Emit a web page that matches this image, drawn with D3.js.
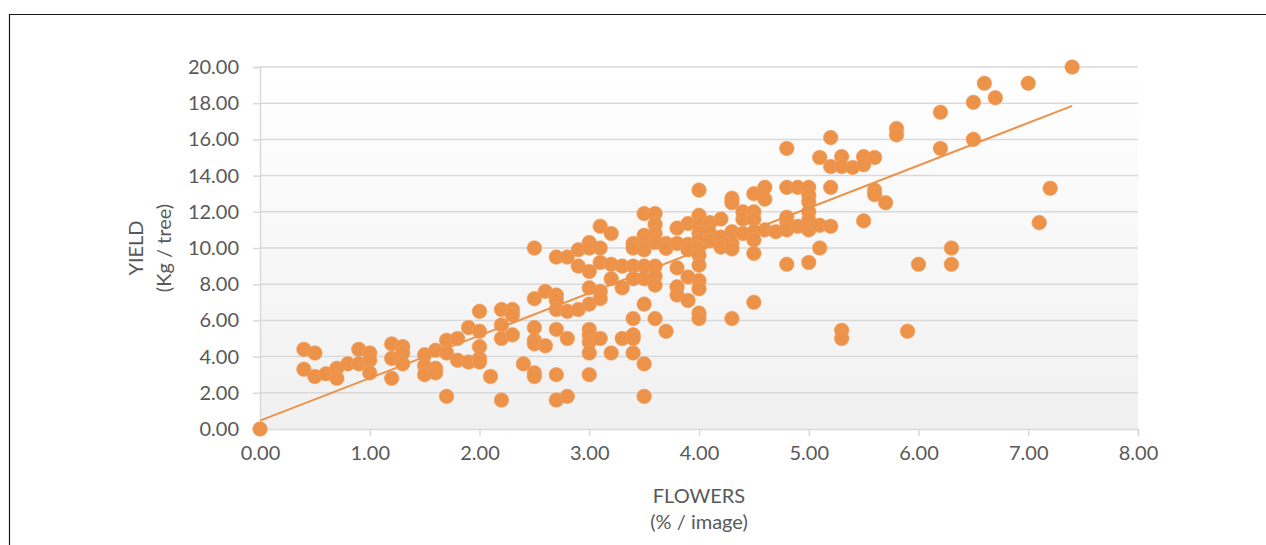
<!DOCTYPE html>
<html>
<head>
<meta charset="utf-8">
<script src="https://cdn.jsdelivr.net/npm/d3@7/dist/d3.min.js"></script>
<style>
  body { margin: 0; background: #fff; }
  text { font-family: Lato, "Open Sans", sans-serif; fill: #595959; }
</style>
</head>
<body>
<div id="chart"></div>
<script>
// flower cover (% of image) levels, and yields (kg / tree) measured at each level
var flowerPct = [0, 0.4, 0.5, 0.6, 0.7, 0.8, 0.9, 1.0, 1.2, 1.3, 1.5, 1.6, 1.7, 1.8, 1.9,
    2.0, 2.1, 2.2, 2.3, 2.4, 2.5, 2.6, 2.7, 2.8, 2.9, 3.0, 3.1, 3.2, 3.3, 3.4, 3.5,
    3.6, 3.7, 3.8, 3.9, 4.0, 4.1, 4.2, 4.3, 4.4, 4.5, 4.6, 4.7, 4.8, 4.9, 5.0, 5.1,
    5.2, 5.3, 5.4, 5.5, 5.6, 5.7, 5.8, 5.9, 6.0, 6.2, 6.3, 6.5, 6.6, 6.7, 7.0, 7.1,
    7.2, 7.4];

var yieldGroups = [
    [0],
    [4.4, 3.3],
    [4.2, 2.9],
    [3.05],
    [3.35, 2.8],
    [3.6],
    [4.4, 3.6],
    [4.2, 3.8, 3.1],
    [4.7, 3.9, 2.8],
    [4.55, 4.2, 3.6],
    [4.1, 3.5, 3.0],
    [4.35, 3.35, 3.1],
    [4.9, 4.2, 1.8],
    [5.0, 3.8],
    [5.6, 3.7],
    [6.5, 5.4, 4.55, 3.9, 3.7],
    [2.9],
    [6.6, 5.75, 5.0, 1.6],
    [6.6, 6.3, 5.2],
    [3.6],
    [10.0, 7.2, 5.6, 4.9, 4.7, 3.1, 2.9],
    [7.6, 4.6],
    [9.5, 7.4, 7.1, 6.6, 5.5, 3.0, 1.6],
    [9.5, 6.5, 5.0, 1.8],
    [9.9, 9.0, 6.6],
    [10.3, 10.0, 8.7, 7.8, 6.9, 5.5, 5.2, 4.8, 4.2, 3.0],
    [11.2, 10.0, 9.2, 7.6, 7.2, 5.0],
    [10.8, 9.1, 8.3, 4.2],
    [9.0, 7.8, 5.0],
    [10.25, 10.0, 9.0, 8.3, 6.1, 5.2, 5.0, 4.2],
    [11.9, 10.7, 10.35, 9.9, 9.0, 8.3, 6.9, 3.6, 1.8],
    [11.9, 11.3, 10.8, 10.3, 9.0, 8.45, 7.95, 6.1],
    [10.25, 9.98, 5.4],
    [11.1, 10.25, 8.9, 7.85, 7.4],
    [11.35, 10.2, 9.9, 8.4, 7.1],
    [13.2, 11.8, 11.3, 10.8, 10.45, 10.05, 9.6, 9.05, 8.2, 7.75, 6.4, 6.1],
    [11.4, 10.8, 10.4],
    [11.6, 10.6, 10.05],
    [12.75, 12.5, 10.9, 10.25, 9.95, 6.1],
    [12.0, 11.6, 10.8],
    [13.0, 12.0, 11.6, 10.9, 10.45, 9.7, 7.0],
    [13.35, 12.7, 11.0],
    [10.9],
    [15.5, 13.35, 11.7, 11.4, 11.0, 9.1],
    [13.35, 11.2],
    [13.35, 12.9, 12.55, 12.0, 11.55, 11.0, 9.2],
    [15.0, 11.25, 10.0],
    [16.1, 14.5, 13.35, 11.2],
    [15.05, 14.5, 5.45, 5.0],
    [14.45],
    [15.05, 14.6, 11.5],
    [15.0, 13.2, 12.95],
    [12.5],
    [16.6, 16.25],
    [5.4],
    [9.1],
    [17.5, 15.5],
    [10.0, 9.1],
    [18.05, 16.0],
    [19.1],
    [18.3],
    [19.1],
    [11.4],
    [13.3],
    [20.0]
];

// linear trendline as shown in the chart (yield = slope * flowers + intercept)
var trendSlope = 2.35;
var trendIntercept = 0.46;

var xTicks = [0, 1, 2, 3, 4, 5, 6, 7, 8];
var yTicks = [0, 2, 4, 6, 8, 10, 12, 14, 16, 18, 20];
var xTitle = ["FLOWERS", "(% / image)"];
var yTitle = ["YIELD", "(Kg / tree)"];

var points = [];
flowerPct.forEach(function(f, i) {
    yieldGroups[i].forEach(function(v) { points.push({x: f, y: v}); });
});

var W = 1266, H = 545;
var plot = {left: 260, right: 1138, top: 67, bottom: 429};
var orange = "#ed9249";

var svg = d3.select("#chart").append("svg")
    .attr("width", W)
    .attr("height", H);

// frame (only top and left edges show in the crop)
svg.append("path")
    .attr("d", "M9.5," + H + "V14.5H" + W)
    .attr("fill", "none")
    .attr("stroke", "#1a1a1a")
    .attr("stroke-width", 1.2);

var x = d3.scaleLinear().domain([0, 8]).range([plot.left, plot.right]);
var y = d3.scaleLinear().domain([0, 20]).range([plot.bottom, plot.top]);

var grad = svg.append("defs").append("linearGradient")
    .attr("id", "bg").attr("x1", 0).attr("y1", 0).attr("x2", 0).attr("y2", 1);
grad.append("stop").attr("offset", "0%").attr("stop-color", "#ffffff");
grad.append("stop").attr("offset", "100%").attr("stop-color", "#f0f0f0");

svg.append("rect")
    .attr("x", plot.left).attr("y", plot.top)
    .attr("width", plot.right - plot.left)
    .attr("height", plot.bottom - plot.top)
    .attr("fill", "url(#bg)");

// horizontal gridlines
svg.append("g").selectAll("line")
    .data(yTicks.slice(1))
    .enter().append("line")
    .attr("x1", plot.left).attr("x2", plot.right)
    .attr("y1", function(d) { return y(d); })
    .attr("y2", function(d) { return y(d); })
    .attr("stroke", "#d9d9d9")
    .attr("stroke-width", 1.5);

// y axis
var yAxis = svg.append("g")
    .attr("transform", "translate(" + plot.left + ",0)")
    .call(d3.axisLeft(y).tickValues(yTicks).tickFormat(d3.format(".2f")).tickSize(7).tickPadding(14));

// x axis
var xAxis = svg.append("g")
    .attr("transform", "translate(0," + plot.bottom + ")")
    .call(d3.axisBottom(x).tickValues(xTicks).tickFormat(d3.format(".2f")).tickSize(7).tickPadding(10));

[yAxis, xAxis].forEach(function(a) {
    a.select(".domain").attr("stroke", "#d9d9d9").attr("stroke-width", 1.5);
    a.selectAll(".tick line").attr("stroke", "#d9d9d9").attr("stroke-width", 1.5);
    a.selectAll(".tick text")
        .attr("fill", "#595959")
        .style("font-family", "Lato, sans-serif")
        .style("font-size", "20px");
});

// points
svg.append("g").selectAll("circle")
    .data(points)
    .enter().append("circle")
    .attr("cx", function(d) { return x(d.x); })
    .attr("cy", function(d) { return y(d.y); })
    .attr("r", 7.3)
    .attr("fill", orange)
    .attr("stroke", "#f0a060")
    .attr("stroke-width", 0.6);

// trendline across the range of the data
var xr = d3.extent(points, function(d) { return d.x; });
svg.append("line")
    .attr("x1", x(xr[0])).attr("y1", y(trendIntercept + trendSlope * xr[0]))
    .attr("x2", x(xr[1])).attr("y2", y(trendIntercept + trendSlope * xr[1]))
    .attr("stroke", orange)
    .attr("stroke-width", 2);

// axis titles
svg.append("g").selectAll("text")
    .data(xTitle)
    .enter().append("text")
    .attr("x", (plot.left + plot.right) / 2)
    .attr("y", function(d, i) { return 503 + i * 26; })
    .attr("text-anchor", "middle")
    .style("font-size", "20px")
    .text(function(d) { return d; });

svg.append("g").selectAll("text")
    .data(yTitle)
    .enter().append("text")
    .attr("transform", function(d, i) {
        return "translate(" + (143 + i * 28) + "," + ((plot.top + plot.bottom) / 2) + ") rotate(-90)";
    })
    .attr("text-anchor", "middle")
    .style("font-size", "20px")
    .text(function(d) { return d; });
</script>
</body>
</html>
